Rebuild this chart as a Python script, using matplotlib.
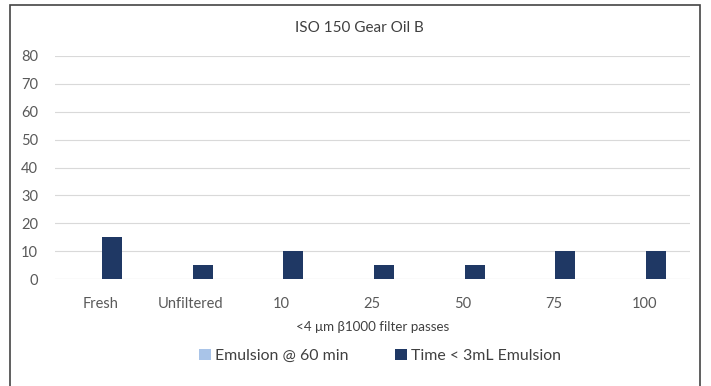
import matplotlib
matplotlib.use("Agg")
import matplotlib.pyplot as plt
import numpy as np
from matplotlib.patches import Rectangle

categories = ["Fresh", "Unfiltered", "10", "25", "50", "75", "100"]
emulsion_60 = [0, 0, 0, 0, 0, 0, 0]
time_3ml = [15, 5, 10, 5, 5, 10, 10]
yticks = [0, 10, 20, 30, 40, 50, 60, 70, 80]

plt.rcParams['font.family'] = ['Lato', 'DejaVu Sans']

fig = plt.figure(figsize=(7.11, 3.86), dpi=100)
ax = fig.add_axes([0.077, 0.277, 0.893, 0.578])

x = np.arange(len(categories))
w = 0.22
off = 0.13
ax.bar(x - off, emulsion_60, w, color="#a9c4e8", label="Emulsion @ 60 min", zorder=3)
ax.bar(x + off, time_3ml, w, color="#1f3864", label="Time < 3mL Emulsion", zorder=3)

ax.set_xlim(-0.5, len(categories) - 0.5)
ax.set_ylim(0, 80)
ax.set_yticks(yticks)
ax.set_xticks(x)
ax.set_xticklabels(categories)
ax.tick_params(axis='both', length=0, labelsize=10.5, colors="#595959")
ax.tick_params(axis='x', pad=13)
ax.tick_params(axis='y', pad=12)
ax.grid(axis='y', color="#d9d9d9", linewidth=0.8, zorder=0)
for s in ax.spines.values():
    s.set_visible(False)
ax.axhline(0, color="#d9d9d9", linewidth=0.8, zorder=1)

fig.text(359 / 711, 1 - 28 / 386, "ISO 150 Gear Oil B", fontsize=11, color="#404040",
         ha="center", va="center")
ax.set_xlabel("<4 \u03bcm \u03b21000 filter passes", fontsize=9.6, color="#404040", labelpad=7)

leg = fig.legend(loc="center", bbox_to_anchor=(380 / 711, 1 - 356 / 386), ncol=2, frameon=False,
                 fontsize=11.4, handlelength=0.75, handleheight=0.75, handletextpad=0.25,
                 columnspacing=2.9)
for t in leg.get_texts():
    t.set_color("#404040")

fig.patches.append(Rectangle((10 / 711, -0.05), 690 / 711, 1 - 5 / 386 + 0.05,
                             transform=fig.transFigure, fill=False,
                             edgecolor="#444444", linewidth=1.2))

fig.savefig("out.png", dpi=100)
